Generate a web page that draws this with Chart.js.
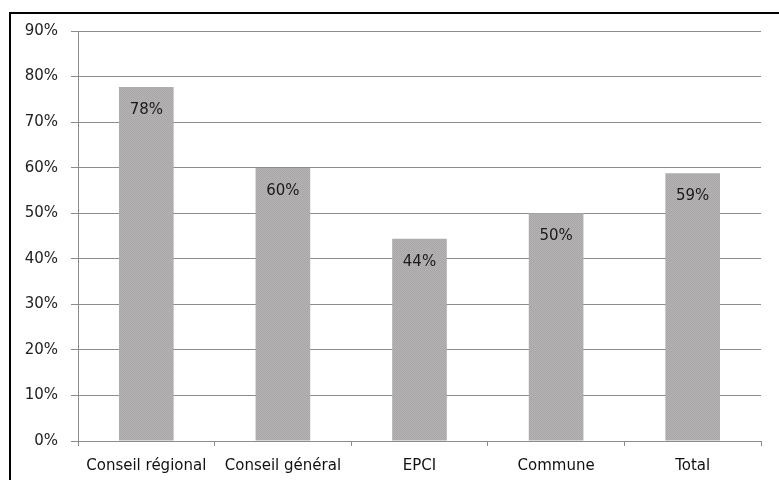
<!DOCTYPE html>
<html>
<head>
<meta charset="utf-8">
<script src="https://cdn.jsdelivr.net/npm/chart.js@4"></script>
<style>
    html, body { margin: 0; padding: 0; background: #fff; overflow: hidden; }
    #frame {
        position: absolute; left: 9px; top: 12px; width: 800px; height: 500px;
        border-left: 2px solid #000; border-top: 2px solid #000;
    }
    #wrap { position: absolute; left: 0; top: 0; width: 779px; height: 480px; }
</style>
</head>
<body>
<div id="frame"></div>
<div id="wrap"><canvas id="chart" width="779" height="480"></canvas></div>
<script>
// Chart data
const categories = ['Conseil régional', 'Conseil général', 'EPCI', 'Commune', 'Total'];
const shares = [77.7, 59.9, 44.4, 50.0, 58.8];
const yTicks = [0, 10, 20, 30, 40, 50, 60, 70, 80, 90];

// Grey dotted fill like the original
function makePattern() {
    const c = document.createElement('canvas');
    c.width = 2; c.height = 2;
    const g = c.getContext('2d');
    g.fillStyle = '#b4b2b2';
    g.fillRect(0, 0, 2, 2);
    g.fillStyle = '#a9a7a7';
    g.fillRect(0, 0, 1, 1);
    g.fillRect(1, 1, 1, 1);
    return g.createPattern(c, 'repeat');
}

// Percent labels inside the top of each bar
const barLabels = {
    id: 'barLabels',
    afterDatasetsDraw(chart) {
        const ctx = chart.ctx;
        const meta = chart.getDatasetMeta(0);
        ctx.save();
        ctx.font = '15px "DejaVu Sans"';
        ctx.fillStyle = '#1a1a1a';
        ctx.textAlign = 'center';
        ctx.textBaseline = 'middle';
        meta.data.forEach((bar, i) => {
            ctx.fillText(Math.round(shares[i]) + '%', bar.x, bar.y + 23);
        });
        ctx.restore();
    }
};

const ctx = document.getElementById('chart').getContext('2d');
new Chart(ctx, {
    type: 'bar',
    data: {
        labels: categories,
        datasets: [{
            data: shares,
            backgroundColor: makePattern(),
            borderWidth: 0,
            categoryPercentage: 1,
            barPercentage: 0.4
        }]
    },
    options: {
        responsive: false,
        animation: false,
        layout: { padding: { left: 0, top: 31, right: 18, bottom: 0 } },
        plugins: {
            legend: { display: false },
            tooltip: { enabled: false }
        },
        scales: {
            x: {
                afterFit: s => { s.height = 39; },
                grid: {
                    offset: true,
                    drawOnChartArea: false,
                    drawTicks: true,
                    tickLength: 5,
                    color: '#8c8c8c'
                },
                border: { color: '#8c8c8c', width: 1 },
                ticks: {
                    padding: 11,
                    color: '#111',
                    font: { family: 'DejaVu Sans', size: 15 },
                    maxRotation: 0,
                    autoSkip: false
                }
            },
            y: {
                min: 0,
                max: 90,
                afterFit: s => { s.width = 78; },
                afterBuildTicks: s => { s.ticks = yTicks.map(v => ({ value: v })); },
                grid: {
                    color: '#8c8c8c',
                    tickLength: 7
                },
                border: { color: '#8c8c8c', width: 1 },
                ticks: {
                    padding: 13,
                    color: '#222',
                    font: { family: 'DejaVu Sans', size: 15 },
                    callback: v => v + '%'
                }
            }
        }
    },
    plugins: [barLabels]
});
</script>
</body>
</html>
